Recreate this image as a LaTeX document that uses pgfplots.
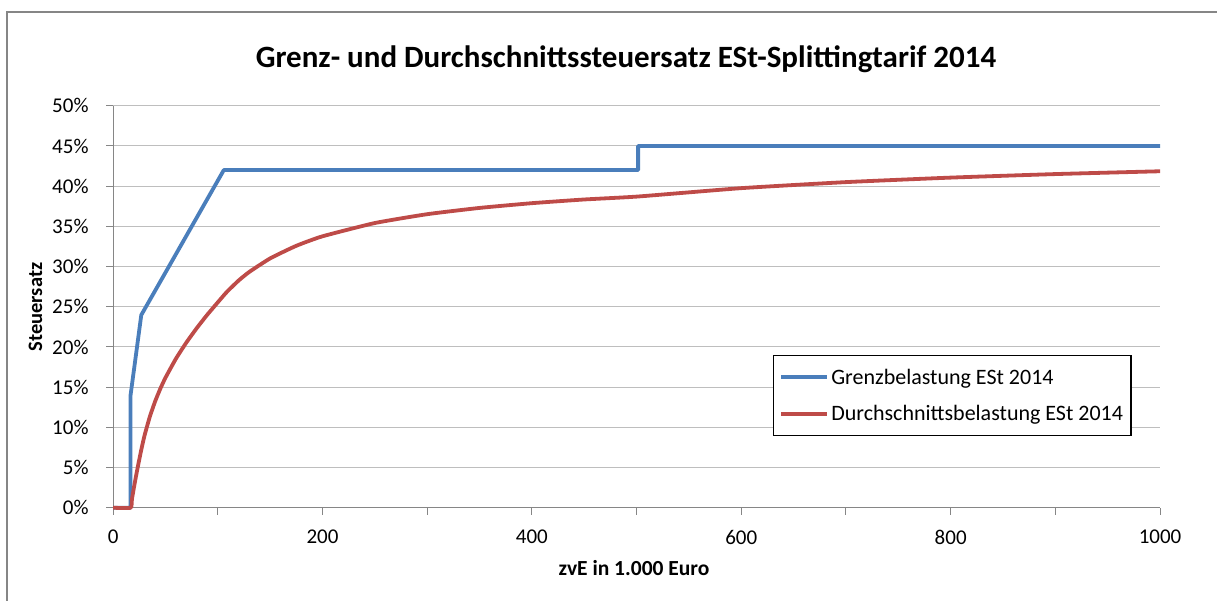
\documentclass[border=0pt]{standalone}
\usepackage{fontspec}
\setmainfont{Carlito}
\usepackage{pgfplots}
\pgfplotsset{compat=1.18}
\definecolor{eblue}{RGB}{74,126,187}
\definecolor{ered}{RGB}{190,75,72}
\definecolor{egrid}{RGB}{190,190,190}
\definecolor{eaxis}{RGB}{134,134,134}
\begin{document}
\begin{tikzpicture}[x=1pt,y=1pt]
\useasboundingbox (0,0) rectangle (1217,601);
\draw[eaxis,line width=2pt] (7,0) -- (7,589) -- (1217,589);
\begin{axis}[
  at={(108,116)}, anchor=origin,
  scale only axis, width=1047pt, height=402pt,
  xmin=0, xmax=1000, ymin=0, ymax=50,
  axis lines=left, axis line style={-,draw=eaxis,line width=1pt},
  tick align=outside, major tick length=7pt,
  tick style={eaxis,line width=1pt},
  xtick={0,100,...,1000},
  xticklabels={0,,200,,400,,600,,800,,1000},
  ytick={0,5,...,50},
  yticklabel={\pgfmathprintnumber{\tick}\%},
  /pgf/number format/assume math mode=true,
  ticklabel style={font=\fontsize{21}{24}\selectfont},
  xticklabel style={yshift=-12pt},
  yticklabel style={xshift=-14pt},
  ymajorgrids, grid style={egrid,line width=1pt},
  clip=false,
  legend style={at={(0.630,0.3806)}, anchor=north west, draw=black, line width=1.2pt,
    fill=white, font=\fontsize{22}{25}\selectfont, inner xsep=6pt, inner ysep=11.5pt,
    row sep=16pt, cells={anchor=west}},
  legend image code/.code={\draw[#1,line width=4pt] (0pt,0pt) -- (46pt,0pt);},
]
\addplot[eblue, line width=3.8pt, line join=round] coordinates {
(0,0) (16.708,0) (16.708,14) (26.938,23.97) (105.762,42) (501.46,42) (501.46,45) (1000,45)};
\addlegendentry{Grenzbelastung ESt 2014}
\addplot[ered, line width=3.8pt, line join=round, smooth, tension=0.3] coordinates {
(0,0) (16.708,0) (18,1.05) (20,2.57) (22,3.99) (24,5.33) (26.938,7.21) (30,8.96) (35,11.28) (40,13.17) (45,14.77) (50,16.16) (60,18.53) (70,20.55) (80,22.35) (90,24.01) (105.762,26.42) (110,27.02) (120,28.27) (130,29.32) (150,31.01) (175,32.58) (200,33.76) (250,35.41) (300,36.51) (350,37.29) (400,37.88) (450,38.34) (501.46,38.71) (600,39.75) (700,40.50) (800,41.06) (900,41.50) (1000,41.85)};
\addlegendentry{Durchschnittsbelastung ESt 2014}
\end{axis}
\node[anchor=base, font=\fontsize{31}{36}\selectfont\bfseries] at (626,533) {Grenz- und Durchschnittssteuersatz ESt-Splittingtarif 2014};
\node[anchor=base, font=\fontsize{21.5}{25}\selectfont\bfseries] at (634,25) {zvE in 1.000 Euro};
\node[anchor=base, rotate=90, font=\fontsize{20.5}{24}\selectfont\bfseries] at (42,294) {Steuersatz};
\end{tikzpicture}
\end{document}
